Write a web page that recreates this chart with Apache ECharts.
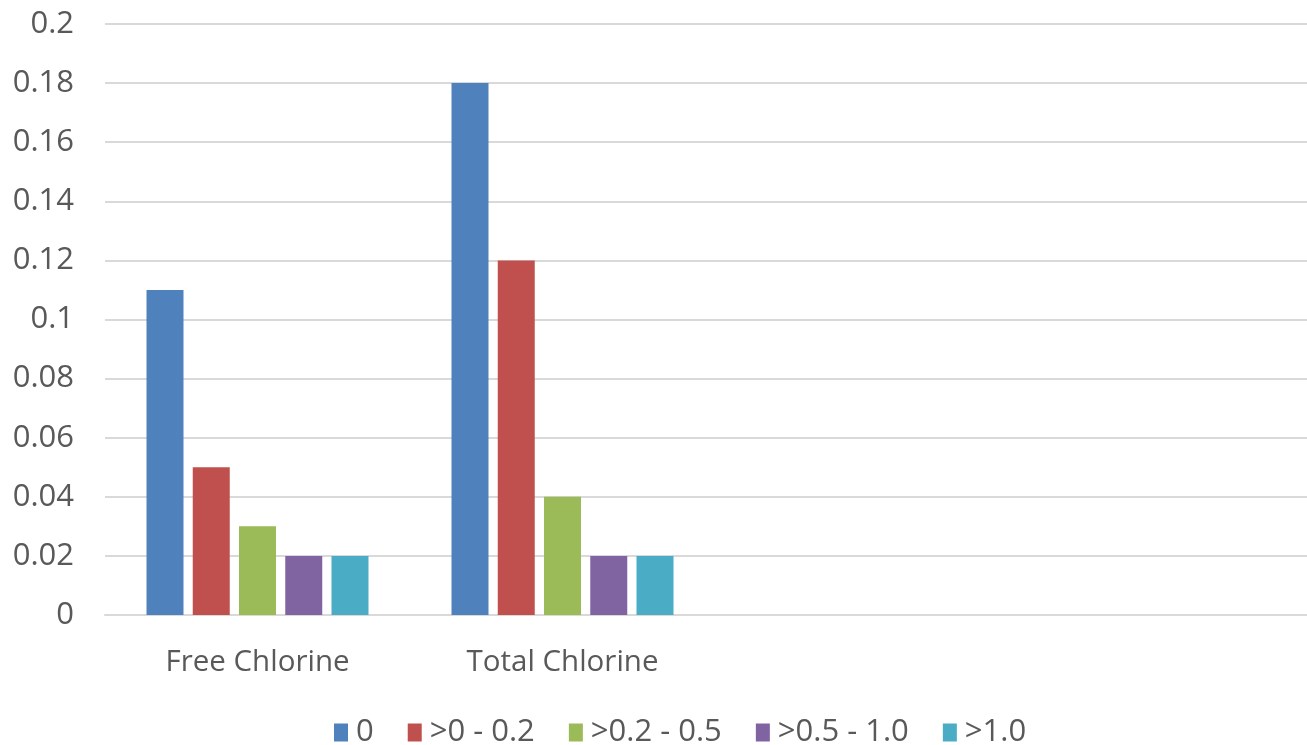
<!DOCTYPE html>
<html><head><meta charset="utf-8">
<script src="https://cdn.jsdelivr.net/npm/echarts@6/dist/echarts.min.js"></script>
<style>html,body{margin:0;padding:0;background:#fff;overflow:hidden;width:1307px;height:745px}#c{width:1325px;height:745px}</style>
</head><body><div id="c"></div>
<script>
const categories = ["Free Chlorine", "Total Chlorine", "", ""];
const seriesNames = ["0", ">0 - 0.2", ">0.2 - 0.5", ">0.5 - 1.0", ">1.0"];
const s0 = [0.11, 0.18, null, null];
const s1 = [0.05, 0.12, null, null];
const s2 = [0.03, 0.04, null, null];
const s3 = [0.02, 0.02, null, null];
const s4 = [0.02, 0.02, null, null];
const colors = ["#4f81bd", "#c0504d", "#9bbb59", "#8064a2", "#4bacc6"];
const yTicks = { min: 0, max: 0.2, interval: 0.02 };

const FONT = "Open Sans";
const chart = echarts.init(document.getElementById('c'));
const data = [s0, s1, s2, s3, s4];
chart.setOption({
  animation: false,
  textStyle: { fontFamily: FONT },
  grid: { left: 105, top: 24, right: 0, bottom: 130, containLabel: false },
  legend: {
    bottom: -8, left: 329, itemWidth: 14, itemHeight: 18, itemGap: 34,
    icon: 'rect',
    textStyle: { fontSize: 31, color: '#595959', fontFamily: FONT, padding: [0, 0, 0, 3] },
    data: seriesNames
  },
  xAxis: {
    type: 'category', data: categories,
    axisLine: { lineStyle: { color: '#d9d9d9', width: 2 } },
    axisTick: { show: false },
    axisLabel: { fontSize: 29.5, color: '#595959', margin: 33, fontFamily: FONT }
  },
  yAxis: {
    type: 'value', min: yTicks.min, max: yTicks.max, interval: yTicks.interval,
    axisLine: { show: false }, axisTick: { show: false },
    splitLine: { lineStyle: { color: '#d9d9d9', width: 2 } },
    axisLabel: { fontSize: 31, color: '#595959', margin: 31, fontFamily: FONT,
      formatter: v => String(parseFloat(v.toFixed(2))) }
  },
  series: seriesNames.map((n, i) => ({
    name: n, type: 'bar', data: data[i], barWidth: 37, barGap: '25%',
    itemStyle: { color: colors[i] }
  }))
});
</script></body></html>
